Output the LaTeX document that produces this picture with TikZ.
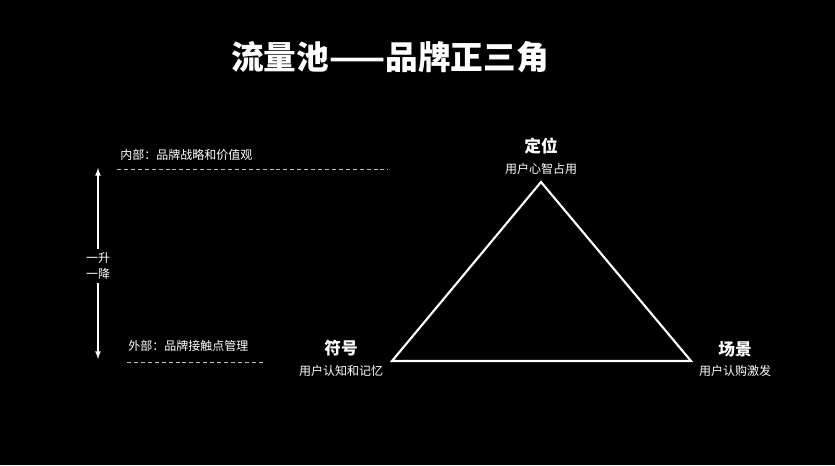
\documentclass[tikz,border=0pt]{standalone}
\usepackage{fontspec}
\newfontfamily\cjk{Noto Sans CJK SC}
\usetikzlibrary{positioning}
\begin{document}
\begin{tikzpicture}[x=0.75pt, y=-0.75pt,
  txt/.style = {text = white, font = \cjk\fontsize{9}{10}\selectfont, inner sep = 0pt},
  corner/.style = {text = white, font = \cjk\bfseries\fontsize{12.5}{14}\selectfont, inner sep = 0pt},
  sep/.style = {draw = white!75!black, dashed, dash pattern = on 3pt off 2.2pt, line width = 0.6pt}]
\definecolor{bg}{HTML}{000000}
\fill[bg] (0, 0) rectangle (835, 465);
\useasboundingbox (0, 0) rectangle (835, 465);
% title
\node[text = white, font = \cjk\bfseries\fontsize{24.5}{27}\selectfont, inner sep = 0pt] (title) at (390, 57) {流量池——品牌正三角};
% triangle
\coordinate (top) at (541, 182);
\coordinate (lft) at (392, 361);
\coordinate (rgt) at (691, 361);
\draw[white, line width = 1.6pt, line join = miter] (top) -- (lft) -- (rgt) -- cycle;
\node[corner] (dingwei) at (541, 146) {定位};
\node[txt] (dingweisub) at (541, 169) {用户心智占用};
\node[corner] (fuhao) at (341, 348) {符号};
\node[txt] (fuhaosub) at (341, 371) {用户认知和记忆};
\node[corner] (changjing) at (735, 349) {场景};
\node[txt] (changjingsub) at (735, 371) {用户认购激发};
% left side
\node[txt, anchor = west] (inner) at (120, 155) {内部：品牌战略和价值观};
\coordinate (innerA) at (117, 169);
\coordinate (innerB) at (388, 169);
\draw[sep] (innerA) -- (innerB);
\node[txt, anchor = west] (outer) at (128, 346) {外部：品牌接触点管理};
\coordinate (outerA) at (127, 362);
\coordinate (outerB) at (263, 362);
\draw[sep] (outerA) -- (outerB);
\node[txt, align = center, font = \cjk\fontsize{9}{11.5}\selectfont] (updown) at (98, 266) {一升\\一降};
\coordinate (arrtop) at (98, 168);
\coordinate (arrbot) at (98, 359);
\draw[white, line width = 1pt, -latex] (updown.north) ++(0, -4) -- (arrtop);
\draw[white, line width = 1pt, -latex] (updown.south) ++(0, 4) -- (arrbot);
\end{tikzpicture}
\end{document}
